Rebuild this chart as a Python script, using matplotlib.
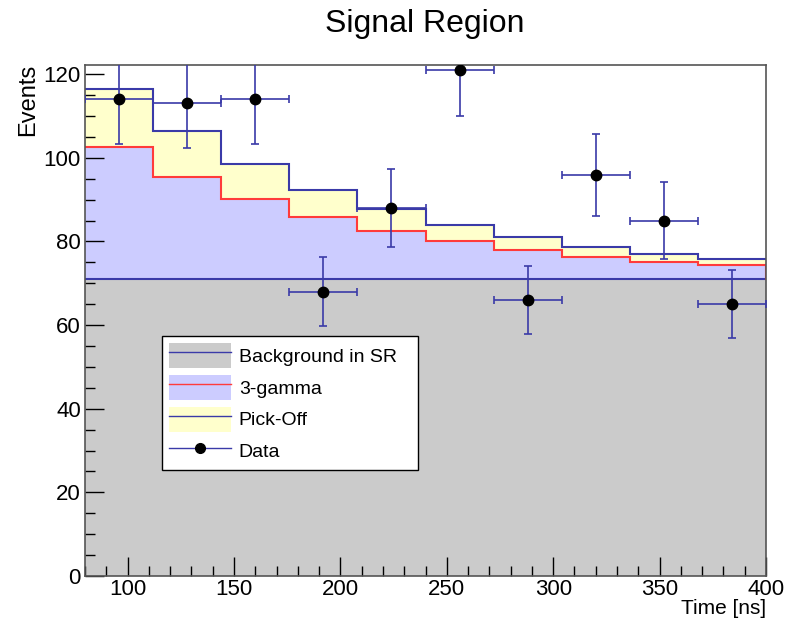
import numpy as np
import matplotlib
matplotlib.use("Agg")
import matplotlib.pyplot as plt
from matplotlib.patches import Patch
from matplotlib.lines import Line2D
from matplotlib.ticker import MultipleLocator

plt.rcParams['font.family'] = ['Liberation Sans', 'DejaVu Sans']

bin_edges = [80, 112, 144, 176, 208, 240, 272, 304, 336, 368, 400]
background = [71, 71, 71, 71, 71, 71, 71, 71, 71, 71]
three_gamma = [31.7, 24.5, 19.2, 14.8, 11.5, 9.0, 7.0, 5.4, 4.2, 3.4]
pick_off = [13.7, 10.8, 8.4, 6.4, 5.3, 3.9, 3.0, 2.3, 1.8, 1.3]
data = [114, 113, 114, 68, 88, 121, 66, 96, 85, 65]

labels = ["Background in SR", "3-gamma", "Pick-Off", "Data"]

edges = np.array(bin_edges, dtype=float)
bkg = np.array(background, dtype=float)
g3 = bkg + np.array(three_gamma)
po = g3 + np.array(pick_off)
d = np.array(data, dtype=float)
centers = 0.5 * (edges[:-1] + edges[1:])
half = 0.5 * np.diff(edges)

blue = '#3a3aa8'
red = '#ff3b3b'
gray_fill = '#cbcbcb'
violet_fill = '#ccccff'
yellow_fill = '#ffffcc'

fig = plt.figure(figsize=(7.85, 6.22), dpi=100)
ax = fig.add_axes([0.1083, 0.074, 0.8675, 0.8215])

ax.stairs(po, edges, baseline=g3, fill=True, color=yellow_fill, lw=0)
ax.stairs(g3, edges, baseline=bkg, fill=True, color=violet_fill, lw=0)
ax.stairs(bkg, edges, baseline=0, fill=True, color=gray_fill, lw=0)
ax.stairs(bkg, edges, baseline=None, color=blue, lw=1.5)
ax.stairs(g3, edges, baseline=None, color=red, lw=1.5)
ax.stairs(po, edges, baseline=None, color=blue, lw=1.5)
ax.plot([edges[-1], edges[-1]], [bkg[-1], g3[-1]], color=red, lw=1.5)

ax.errorbar(centers, d, xerr=half, yerr=np.sqrt(d), fmt='o', color='black',
            ms=7.5, ecolor=blue, elinewidth=1.2, capsize=3, capthick=1.2, zorder=5)

ax.set_xlim(80, 400)
ax.set_ylim(0, 122.2)
ax.xaxis.set_major_locator(MultipleLocator(50))
ax.xaxis.set_minor_locator(MultipleLocator(10))
ax.yaxis.set_major_locator(MultipleLocator(20))
ax.yaxis.set_minor_locator(MultipleLocator(5))
ax.tick_params(which='both', direction='in', top=False, right=False, labelsize=16, color='black')
ax.tick_params(which='major', length=14, width=1)
ax.tick_params(which='minor', length=7, width=1)
ax.tick_params(axis='x', pad=2)
ax.tick_params(axis='y', pad=3)
for s in ax.spines.values():
    s.set_color('#555555')
    s.set_linewidth(1.2)

fig.text(0.5414, 0.962, "Signal Region", ha='center', va='center', fontsize=23)
fig.text(0.976, 0.006, "Time [ns]", ha='right', va='bottom', fontsize=15)
fig.text(0.036, 0.897, "Events", ha='center', va='top', rotation=90, fontsize=17)

handles = [
    (Patch(facecolor=gray_fill, edgecolor='none'), Line2D([], [], color=blue, lw=1)),
    (Patch(facecolor=violet_fill, edgecolor='none'), Line2D([], [], color=red, lw=1)),
    (Patch(facecolor=yellow_fill, edgecolor='none'), Line2D([], [], color=blue, lw=1)),
    Line2D([], [], color=blue, lw=1, marker='o', mfc='black', mec='black', ms=7),
]
leg = ax.legend(handles, labels, loc='lower left', bbox_to_anchor=(0.113, 0.207, 0.376, 0.26),
                mode='expand', fancybox=False, framealpha=1, edgecolor='black',
                fontsize=14, handlelength=3.2, handleheight=1.6, labelspacing=0.35,
                borderpad=0.35, handletextpad=0.4, borderaxespad=0)
leg.get_frame().set_linewidth(1.0)

fig.savefig("out.png", dpi=100)
